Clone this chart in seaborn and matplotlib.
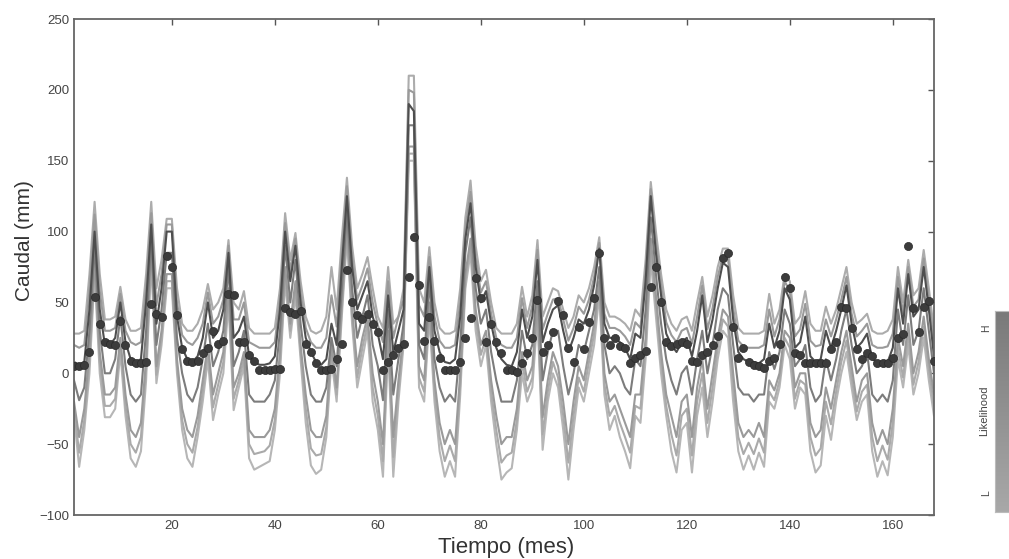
import matplotlib
matplotlib.use("Agg")
import matplotlib.pyplot as plt
from matplotlib.colors import LinearSegmentedColormap
import numpy as np
import pandas as pd
import seaborn as sns

meses = list(range(1, 169))

# caudal observado (puntos)
observado = [5, 5, 6, 15, 54, 35, 22, 21, 20, 37,
             20, 9, 7, 7, 8, 49, 42, 40, 83, 75,
             41, 17, 9, 8, 9, 14, 18, 30, 21, 23,
             56, 55, 22, 22, 13, 9, 2, 2, 2, 3,
             3, 46, 43, 42, 44, 21, 15, 7, 2, 2,
             3, 10, 21, 73, 50, 41, 38, 42, 35, 29,
             2, 8, 13, 18, 21, 68, 96, 62, 23, 40,
             23, 11, 2, 2, 2, 8, 25, 39, 67, 53,
             22, 35, 22, 14, 2, 2, 1, 7, 14, 25,
             52, 15, 20, 29, 51, 41, 18, 8, 33, 17,
             36, 53, 85, 25, 20, 25, 19, 18, 7, 11,
             13, 16, 61, 75, 50, 22, 19, 21, 22, 21,
             9, 8, 13, 15, 20, 26, 81, 85, 33, 11,
             18, 8, 6, 5, 4, 9, 11, 21, 68, 60,
             14, 13, 7, 7, 7, 7, 7, 17, 22, 47,
             46, 32, 17, 10, 14, 12, 7, 7, 7, 11,
             25, 28, 90, 46, 29, 47, 51, 9]

# simulaciones del ensamble (de mayor a menor)
sim_alta = [28, 28, 30, 70, 121, 70, 38, 38, 40, 61,
            38, 30, 30, 32, 70, 121, 60, 80, 109, 109,
            60, 35, 30, 30, 35, 45, 63, 45, 50, 60,
            94, 50, 45, 58, 32, 28, 28, 28, 28, 32,
            60, 113, 80, 99, 65, 40, 30, 28, 30, 40,
            75, 45, 95, 138, 90, 60, 70, 82, 60, 40,
            32, 75, 35, 40, 60, 210, 210, 60, 50, 89,
            50, 32, 28, 28, 30, 60, 110, 136, 90, 65,
            73, 50, 32, 28, 28, 28, 35, 61, 40, 55,
            94, 40, 50, 60, 58, 45, 32, 40, 55, 50,
            60, 75, 96, 50, 40, 40, 38, 35, 30, 45,
            40, 80, 135, 100, 70, 45, 35, 30, 38, 40,
            30, 50, 68, 40, 55, 75, 88, 88, 55, 32,
            28, 28, 28, 28, 30, 56, 35, 45, 70, 65,
            35, 40, 58, 35, 30, 30, 47, 35, 45, 60,
            75, 50, 35, 38, 42, 30, 28, 28, 30, 38,
            75, 50, 80, 55, 60, 87, 60, 30]

sim_alta2 = [20, 18, 20, 58, 112, 58, 30, 30, 32, 56,
             30, 22, 20, 22, 60, 113, 48, 70, 105, 105,
             50, 27, 22, 20, 25, 35, 57, 35, 40, 52,
             90, 38, 38, 50, 22, 20, 18, 18, 18, 22,
             52, 106, 72, 95, 57, 32, 22, 18, 18, 25,
             55, 33, 85, 132, 82, 52, 62, 74, 50, 34,
             22, 65, 25, 40, 52, 200, 198, 48, 40, 82,
             40, 23, 18, 18, 20, 50, 102, 128, 82, 57,
             65, 42, 25, 20, 18, 18, 25, 53, 32, 48,
             87, 31, 42, 52, 53, 38, 23, 32, 47, 42,
             52, 68, 92, 42, 32, 32, 30, 26, 20, 36,
             32, 72, 130, 92, 62, 36, 27, 22, 30, 32,
             21, 40, 62, 31, 46, 68, 83, 81, 46, 23,
             19, 18, 18, 18, 20, 45, 26, 38, 65, 58,
             26, 31, 49, 23, 19, 20, 38, 26, 38, 52,
             68, 42, 26, 30, 35, 20, 18, 18, 19, 28,
             68, 42, 75, 47, 52, 81, 52, 21]

sim_mejor = [8, 6, 8, 45, 100, 45, 20, 20, 25, 50,
             22, 10, 8, 10, 50, 105, 35, 60, 100, 100,
             40, 18, 10, 8, 12, 25, 50, 25, 30, 45,
             85, 25, 30, 40, 12, 8, 6, 6, 7, 12,
             45, 100, 65, 90, 50, 25, 15, 8, 6, 10,
             35, 20, 75, 125, 75, 45, 55, 65, 40, 28,
             10, 55, 15, 30, 45, 190, 185, 35, 30, 75,
             30, 15, 8, 7, 10, 40, 95, 120, 75, 50,
             58, 35, 18, 10, 6, 5, 15, 45, 25, 40,
             80, 22, 35, 45, 48, 30, 15, 25, 38, 35,
             45, 62, 88, 35, 25, 25, 22, 18, 10, 28,
             25, 65, 125, 85, 55, 28, 20, 15, 22, 25,
             12, 30, 55, 22, 38, 60, 78, 75, 38, 15,
             10, 8, 8, 7, 10, 35, 18, 30, 60, 52,
             18, 22, 40, 12, 8, 10, 30, 18, 30, 45,
             62, 35, 18, 22, 28, 10, 8, 7, 8, 18,
             60, 35, 70, 40, 45, 75, 45, 12]

sim_media = [-5, -19, -10, 30, 90, 30, 0, 0, 10, 40,
             5, -15, -20, -15, 30, 95, 20, 45, 85, 85,
             25, 0, -15, -20, -10, 10, 35, 5, 15, 30,
             75, 5, 15, 30, -15, -20, -20, -20, -15, -5,
             30, 90, 50, 80, 35, 5, -15, -20, -20, -10,
             25, 5, 60, 115, 60, 25, 40, 55, 20, 5,
             -19, 45, -15, 10, 35, 175, 175, 20, 10, 65,
             10, -10, -20, -15, -20, 20, 85, 110, 60, 35,
             45, 15, -5, -20, -20, -20, -5, 30, 10, 20,
             65, -5, 15, 30, 30, 5, -15, 0, 20, 15,
             30, 45, 75, 20, 0, 5, 0, -10, -15, 10,
             5, 45, 110, 70, 35, 10, -5, -15, 0, 5,
             -15, 10, 30, 0, 20, 45, 60, 55, 20, -10,
             -15, -15, -20, -15, -15, 15, 3, 15, 45, 35,
             5, 10, 20, -10, -20, -15, 10, -5, 10, 30,
             45, 20, 0, 5, 15, -15, -20, -15, -20, -5,
             45, 20, 55, 20, 30, 60, 30, 0]

sim_baja = [-20, -45, -25, 15, 80, 15, -15, -15, -10, 25,
            -15, -40, -45, -35, 10, 90, 5, 30, 70, 70,
            10, -25, -40, -45, -30, -5, 20, -15, 0, 15,
            60, -10, 0, 15, -40, -45, -45, -45, -40, -25,
            15, 75, 35, 65, 20, -15, -40, -45, -45, -30,
            20, -10, 50, 105, 45, 5, 25, 40, 0, -20,
            -50, 30, -45, -5, 28, 160, 160, 5, -5, 50,
            -5, -35, -50, -40, -50, 0, 70, 95, 45, 20,
            30, -5, -30, -50, -45, -45, -25, 15, -5, 5,
            50, -31, -5, 15, 5, -20, -50, -20, 5, -5,
            15, 35, 65, 0, -20, -15, -25, -35, -45, -15,
            -15, 25, 95, 55, 15, -15, -30, -45, -20, -15,
            -45, -10, 10, -25, 0, 25, 45, 40, 0, -35,
            -45, -40, -45, -35, -45, -5, -12, 0, 30, 25,
            -10, 0, 0, -35, -45, -40, -10, -25, -5, 15,
            30, 5, -20, -5, 0, -35, -50, -40, -50, -25,
            25, 5, 35, 0, 15, 40, 10, -15]

sim_baja2 = [-25, -56, -33, 8, 75, 8, -23, -23, -18, 20,
             -23, -50, -56, -45, 3, 85, -1, 25, 65, 65,
             5, -33, -50, -56, -38, -13, 15, -24, -8, 8,
             55, -18, -5, 10, -50, -57, -56, -55, -51, -33,
             8, 70, 30, 60, 15, -25, -53, -58, -57, -38,
             15, -15, 45, 100, 40, -3, 18, 35, -10, -30,
             -62, 25, -59, -13, 24, 155, 155, -3, -13, 45,
             -13, -45, -62, -51, -62, -8, 65, 90, 38, 13,
             25, -13, -40, -63, -58, -56, -33, 8, -13, -3,
             45, -43, -13, 8, -3, -30, -63, -30, -3, -13,
             8, 28, 60, -8, -30, -23, -35, -45, -56, -23,
             -25, 18, 88, 48, 8, -23, -43, -58, -30, -25,
             -58, -20, 0, -35, -10, 18, 38, 33, -10, -45,
             -57, -49, -57, -46, -56, -13, -19, -5, 25, 18,
             -18, -5, -8, -45, -58, -53, -20, -36, -13, 8,
             23, -3, -27, -13, -8, -45, -62, -51, -61, -35,
             18, -3, 28, -8, 8, 33, 3, -23]

sim_minima = [-30, -66, -40, 0, 70, 0, -31, -31, -25, 15,
              -30, -60, -66, -55, -5, 80, -7, 20, 60, 60,
              0, -40, -60, -66, -45, -20, 10, -33, -15, 0,
              50, -26, -10, 5, -60, -68, -66, -64, -62, -40,
              0, 65, 25, 55, 10, -35, -65, -71, -68, -45,
              10, -20, 40, 95, 35, -10, 10, 30, -20, -40,
              -73, 20, -73, -20, 20, 150, 150, -10, -20, 40,
              -20, -55, -73, -62, -73, -15, 60, 85, 30, 5,
              20, -20, -50, -75, -70, -67, -40, 0, -20, -10,
              40, -54, -20, 0, -10, -40, -75, -40, -10, -20,
              0, 20, 55, -15, -40, -30, -45, -55, -67, -30,
              -35, 10, 80, 40, 0, -30, -55, -70, -40, -35,
              -70, -30, -10, -45, -20, 10, 30, 25, -20, -55,
              -68, -58, -68, -56, -66, -20, -25, -10, 20, 10,
              -25, -10, -15, -55, -70, -65, -30, -47, -20, 0,
              15, -10, -33, -20, -15, -55, -73, -62, -72, -45,
              10, -10, 20, -15, 0, 25, -5, -30]

miembros = {
    "minima": sim_minima,
    "baja2": sim_baja2,
    "alta": sim_alta,
    "baja": sim_baja,
    "alta2": sim_alta2,
    "media": sim_media,
    "mejor": sim_mejor,
}
colores = {
    "minima": "#b6b6b6",
    "baja2": "#aaaaaa",
    "alta": "#acacac",
    "baja": "#9a9a9a",
    "alta2": "#9a9a9a",
    "media": "#7c7c7c",
    "mejor": "#4e4e4e",
}

df = pd.concat([pd.DataFrame({"mes": meses, "caudal": v, "miembro": k})
                for k, v in miembros.items()], ignore_index=True)

sns.set_style("white")
plt.rcParams['font.family'] = ['Liberation Sans', 'DejaVu Sans']

fig = plt.figure(figsize=(10.09, 5.59), dpi=100)
ax = fig.add_axes([74 / 1009, 1 - 515 / 559, 860 / 1009, 496 / 559])

sns.lineplot(data=df, x="mes", y="caudal", hue="miembro",
             hue_order=list(miembros.keys()), palette=colores,
             estimator=None, lw=1.5, legend=False, ax=ax)
sns.scatterplot(x=meses, y=observado, color="#3c3c3c", s=34,
                edgecolor="#2a2a2a", linewidth=0.5, zorder=5, ax=ax)

ax.set_xlim(1, 168)
ax.set_ylim(-100, 250)
ax.set_xticks(range(20, 161, 20))
ax.set_yticks(range(-100, 251, 50))
ax.tick_params(direction="in", length=4, width=1, colors="#555555",
               labelsize=9.5, labelcolor="#444444", top=True, right=True)
for sp in ax.spines.values():
    sp.set_color("#666666")
    sp.set_linewidth(1.3)

ax.set_xlabel("Tiempo (mes)", fontsize=16, color="#333333")
ax.set_ylabel("Caudal (mm)", fontsize=15, color="#333333")
ax.xaxis.set_label_coords(0.502, -0.045)
ax.yaxis.set_label_coords(-0.047, 0.554)

# barra de likelihood
cax = fig.add_axes([995 / 1009, 1 - 512 / 559, 0.03, 201 / 559])
grises = LinearSegmentedColormap.from_list("lik", ["#a8a8a8", "#7a7a7a"])
cax.imshow(np.linspace(0, 1, 100).reshape(-1, 1), cmap=grises, origin="lower",
           aspect="auto", extent=[0, 1, 0, 1])
cax.set_xticks([])
cax.set_yticks([])
for sp in cax.spines.values():
    sp.set_color("#bbbbbb")
fig.text(986 / 1009, 1 - 328 / 559, "H", rotation=90, fontsize=7.5,
         color="#444444", ha="center", va="center")
fig.text(986 / 1009, 1 - 493 / 559, "L", rotation=90, fontsize=7.5,
         color="#444444", ha="center", va="center")
fig.text(984 / 1009, 1 - 411 / 559, "Likelihood", rotation=90, fontsize=8,
         color="#444444", ha="center", va="center")

fig.savefig("out.png", dpi=100)
